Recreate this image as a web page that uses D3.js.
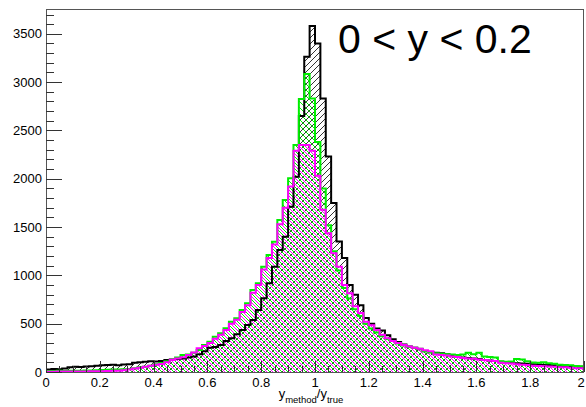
<!DOCTYPE html>
<html><head><meta charset="utf-8">
<script src="https://cdn.jsdelivr.net/npm/d3@7"></script>
<style>body{margin:0;background:#fff;}svg{display:block;font-family:"Liberation Sans",Arial,sans-serif;}</style>
</head><body>
<svg id="c" width="586" height="407"></svg>
<script>
const xDomain = [0, 2];
const nBins = 100;
const yMax = 3757;
const xTicks = [0, 0.2, 0.4, 0.6, 0.8, 1, 1.2, 1.4, 1.6, 1.8, 2];
const xTickLabels = ["0", "0.2", "0.4", "0.6", "0.8", "1", "1.2", "1.4", "1.6", "1.8", "2"];
const yTicks = [0, 500, 1000, 1500, 2000, 2500, 3000, 3500];
const labelText = "0 < y < 0.2";

const black = [25,30,28,35,50,55,52,58,60,65,70,72,75,70,78,80,95,100,105,110,108,115,125,130,135,140,150,160,185,
 215,250,260,280,320,350,390,435,486,538,642,763,918,1090,1263,1400,1711,2022,2650,3263,3581,
 3400,2830,2230,1750,1350,1180,900,800,690,560,500,450,430,380,340,310,285,265,250,235,
 215,205,200,195,185,170,165,150,145,140,135,125,120,115,105,100,95,90,88,85,80,78,75,72,70,65,62,60,58,55];
const green = [10,10,12,10,12,14,12,15,16,18,20,22,25,26,28,32,40,50,55,65,80,93,110,124,150,176,180,200,228,
 280,314,365,400,452,521,556,642,711,849,918,1090,1211,1349,1573,1780,2005,2349,2826,3084,
 2830,2380,1900,1520,1250,1050,870,760,650,580,500,450,410,370,345,320,295,275,262,250,
 240,215,205,195,190,185,180,175,180,200,185,200,160,155,150,110,105,108,135,130,110,98,95,100,90,85,75,72,70,62,60];
const magenta = [3,3,4,4,5,5,6,6,7,8,9,10,12,14,18,25,36,45,55,65,75,83,100,124,140,152,175,202,245,
 270,300,345,385,435,500,540,620,690,820,900,1060,1180,1320,1530,1700,1920,2290,2350,2350,2290,2030,
 1680,1435,1230,1090,900,815,680,610,520,485,435,385,350,320,300,280,265,250,240,225,
 215,180,175,170,160,155,145,140,138,130,125,120,115,95,90,88,80,75,72,65,62,60,58,55,50,48,45,40,38];

const series = [
  {name:"black", values:black, color:"#000000", hatch:"fwd", off:0},
  {name:"green", values:green, color:"#00ee00", hatch:"back", off:0},
  {name:"magenta", values:magenta, color:"#ff00ff", hatch:"back", off:3}
];
const fillOrder = ["black", "magenta", "green"];

const svg = d3.select("#c");
const m = {l:46, r:584, t:9, b:372};
const x = d3.scaleLinear().domain(xDomain).range([m.l, m.r]);
const y = d3.scaleLinear().domain([0, yMax]).range([m.b, m.t]);
const bw = (xDomain[1]-xDomain[0]) / nBins;

const defs = svg.append("defs");
const S = 6;
series.forEach(s => {
  const p = defs.append("pattern").attr("id","h-"+s.name).attr("patternUnits","userSpaceOnUse")
    .attr("width",S).attr("height",S).attr("x", s.off);
  const d = s.hatch === "fwd"
    ? `M0,${S}L${S},0M-1,1L1,-1M${S-1},${S+1}L${S+1},${S-1}`
    : `M0,0L${S},${S}M-1,${S-1}L1,${S+1}M${S-1},-1L${S+1},1`;
  p.append("path").attr("d", d).attr("stroke", s.color).attr("stroke-width", s.name === "black" ? 0.8 : 1).attr("fill","none");
});
defs.append("clipPath").attr("id","clip").append("rect")
  .attr("x",m.l).attr("y",m.t).attr("width",m.r-m.l).attr("height",m.b-m.t);

function stepPath(vals, closed){
  let p = d3.path();
  p.moveTo(x(xDomain[0]), y(0));
  vals.forEach((v,i) => {
    p.lineTo(x(xDomain[0]+i*bw), y(v));
    p.lineTo(x(xDomain[0]+(i+1)*bw), y(v));
  });
  p.lineTo(x(xDomain[1]), y(0));
  if (closed) p.closePath();
  return p.toString();
}

const g = svg.append("g").attr("clip-path","url(#clip)");
fillOrder.forEach(n => {
  const s = series.find(q => q.name === n);
  g.append("path").attr("d", stepPath(s.values, true)).attr("fill","url(#h-"+s.name+")").attr("stroke","none");
});
series.forEach(s => {
  g.append("path").attr("d", stepPath(s.values, false)).attr("fill","none")
    .attr("stroke", s.color).attr("stroke-width", 2).attr("stroke-linejoin","miter");
});

// frame
svg.append("rect").attr("x",m.l+0.5).attr("y",m.t+0.5).attr("width",m.r-m.l-1).attr("height",m.b-m.t)
  .attr("fill","none").attr("stroke","#555").attr("stroke-width",1);

// y axis ticks
const yMinor = d3.range(0, yMax, 100);
svg.append("g").selectAll("line").data(yMinor).join("line")
  .attr("x1", m.l).attr("x2", d => m.l + (d % 500 === 0 ? 16 : 8))
  .attr("y1", d => Math.round(y(d))+0.5).attr("y2", d => Math.round(y(d))+0.5)
  .attr("stroke","#333").attr("stroke-width",1);
svg.append("g").selectAll("text").data(yTicks).join("text")
  .attr("x", 42).attr("y", d => y(d)+4.5).attr("text-anchor","end")
  .attr("font-size", 13).attr("fill","#000").text(d => d);

// x axis ticks
const xMinor = d3.range(0, 41).map(i => i*0.05);
svg.append("g").selectAll("line").data(xMinor).join("line")
  .attr("x1", d => Math.round(x(d))+0.5).attr("x2", d => Math.round(x(d))+0.5)
  .attr("y1", m.b).attr("y2", (d,i) => m.b - (i % 4 === 0 ? 11 : 6))
  .attr("stroke","#333").attr("stroke-width",1);
svg.append("g").selectAll("text").data(xTicks).join("text")
  .attr("x", (d,i) => i === xTicks.length-1 ? x(d)-3 : x(d)).attr("y", 387).attr("text-anchor","middle")
  .attr("font-size", 13).attr("fill","#000").text((d,i) => xTickLabels[i]);

// axis title
const t = svg.append("text").attr("x", 311).attr("y", 398).attr("text-anchor","middle")
  .attr("font-size", 13).attr("fill","#000");
t.append("tspan").text("y");
t.append("tspan").attr("font-size", 9.5).attr("dy", 5).text("method");
t.append("tspan").attr("dy", -5).text("/y");
t.append("tspan").attr("font-size", 9.5).attr("dy", 5).text("true");

// label
svg.append("text").attr("x", 338).attr("y", 53).attr("font-size", 41).attr("fill","#000").text(labelText);
</script>
</body></html>
